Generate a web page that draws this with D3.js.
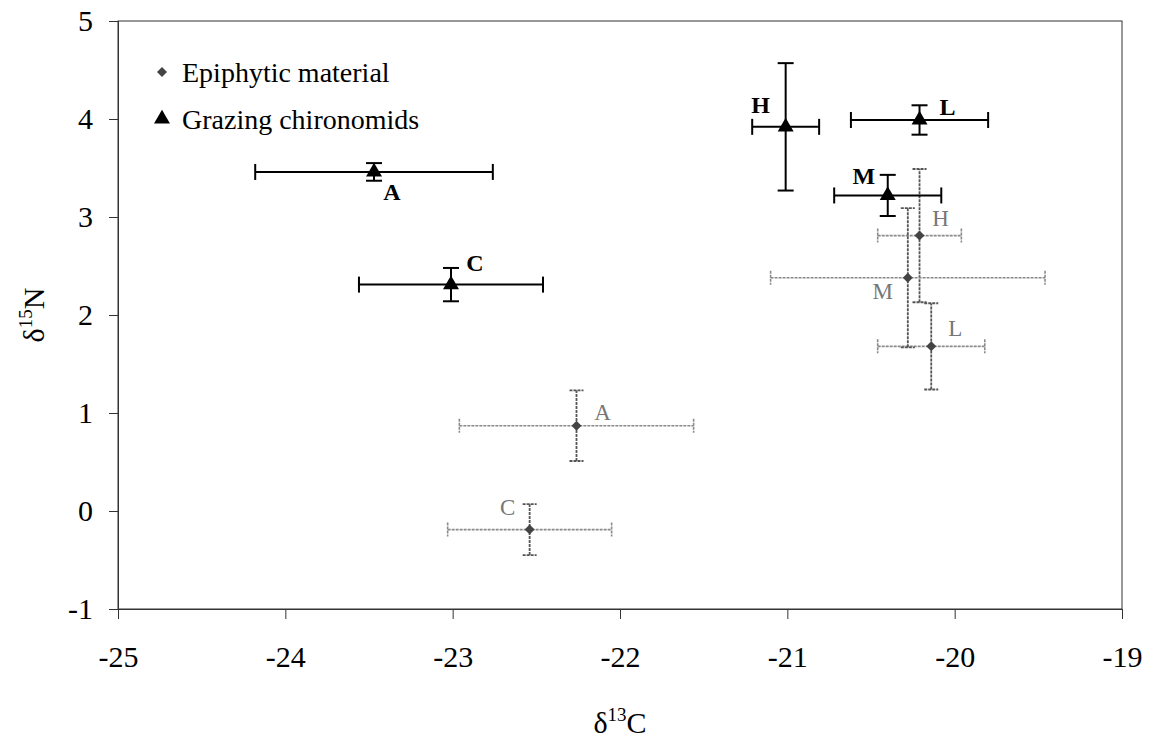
<!DOCTYPE html>
<html lang="en">
<head>
    <meta charset="UTF-8">
    <title>d15N vs d13C</title>
    <script src="https://d3js.org/d3.v7.min.js"></script>
    <style>
        body {
            margin: 0;
            padding: 0;
            background-color: #fff;
        }
    </style>
</head>
<body>
    <svg width="1153" height="738"></svg>
    <script>
        // Data
        const sites = ["A", "C", "H", "L", "M"];

        // Grazing chironomids
        const chiroC = [-23.47, -23.01, -21.01, -20.21, -20.40];
        const chiroCErr = [0.71, 0.55, 0.20, 0.41, 0.32];
        const chiroN = [3.46, 2.31, 3.92, 3.99, 3.22];
        const chiroNErr = [0.09, 0.17, 0.65, 0.15, 0.21];

        // Epiphytic material
        const epiC = [-22.26, -22.54, -20.21, -20.14, -20.28];
        const epiCErr = [0.70, 0.49, 0.25, 0.32, 0.82];
        const epiN = [0.87, -0.19, 2.81, 1.68, 2.38];
        const epiNErr = [0.36, 0.26, 0.68, 0.44, 0.71];

        const xTicks = [-25, -24, -23, -22, -21, -20, -19];
        const yTicks = [-1, 0, 1, 2, 3, 4, 5];

        const FONT = "'Times New Roman', 'Liberation Serif', Tinos, 'DejaVu Serif', serif";

        const svg = d3.select("svg")
            .attr("font-family", FONT),
            margin = { top: 21, right: 31, bottom: 129, left: 118 },
            width = 1153 - margin.left - margin.right,
            height = 738 - margin.top - margin.bottom;

        const g = svg.append("g")
            .attr("transform", `translate(${margin.left},${margin.top})`);

        const x = d3.scaleLinear().domain([-25, -19]).range([0, width]);
        const y = d3.scaleLinear().domain([-1, 5]).range([height, 0]);

        // Frame
        g.append("rect")
            .attr("width", width)
            .attr("height", height)
            .attr("fill", "none")
            .attr("stroke", "#333")
            .attr("stroke-width", 1);

        // Axes
        const xAxis = g.append("g")
            .attr("transform", `translate(0,${height})`)
            .call(d3.axisBottom(x).tickValues(xTicks).tickSize(10).tickPadding(27).tickFormat(d3.format("d")));
        const yAxis = g.append("g")
            .call(d3.axisLeft(y).tickValues(yTicks).tickSize(9).tickPadding(16).tickFormat(d3.format("d")));

        [xAxis, yAxis].forEach(a => {
            a.attr("font-family", FONT);
            a.select(".domain").attr("stroke", "#333");
            a.selectAll(".tick line").attr("stroke", "#333");
            a.selectAll("text")
                .attr("fill", "#000")
                .style("font-size", "30px")
                .text(d => (d < 0 ? "-" : "") + Math.abs(d));
        });

        // Axis titles
        const xt = svg.append("text")
            .attr("x", margin.left + width / 2).attr("y", 733)
            .attr("text-anchor", "middle")
            .style("font-size", "30px");
        xt.append("tspan").text("δ");
        xt.append("tspan").attr("dy", -12).style("font-size", "19px").text("13");
        xt.append("tspan").attr("dy", 12).text("C");

        const yt = svg.append("text")
            .attr("transform", `translate(44,${margin.top + height / 2}) rotate(-90)`)
            .attr("text-anchor", "middle")
            .style("font-size", "30px");
        yt.append("tspan").text("δ");
        yt.append("tspan").attr("dy", -12).style("font-size", "19px").text("15");
        yt.append("tspan").attr("dy", 12).text("N");

        const epi = sites.map((s, i) => ({ site: s, c: epiC[i], ce: epiCErr[i], n: epiN[i], ne: epiNErr[i] }));
        const chiro = sites.map((s, i) => ({ site: s, c: chiroC[i], ce: chiroCErr[i], n: chiroN[i], ne: chiroNErr[i] }));

        // Label offsets (pixels) around each point
        const epiLabelOff = { A: [26, -13], C: [-22, -22], H: [21, -17], L: [24, -18], M: [-25, 14] };
        const chiroLabelOff = { A: [18, 20], C: [24, -22], H: [-25, -22], L: [28, -13], M: [-24, -19] };

        function errorBars(sel, data, hStyle, vStyle, cap) {
            const grp = sel.selectAll(null).data(data).enter().append("g");
            // horizontal
            grp.append("line")
                .attr("x1", d => x(d.c - d.ce)).attr("x2", d => x(d.c + d.ce))
                .attr("y1", d => y(d.n)).attr("y2", d => y(d.n))
                .call(hStyle);
            grp.append("line")
                .attr("x1", d => x(d.c - d.ce)).attr("x2", d => x(d.c - d.ce))
                .attr("y1", d => y(d.n) - cap).attr("y2", d => y(d.n) + cap)
                .call(hStyle);
            grp.append("line")
                .attr("x1", d => x(d.c + d.ce)).attr("x2", d => x(d.c + d.ce))
                .attr("y1", d => y(d.n) - cap).attr("y2", d => y(d.n) + cap)
                .call(hStyle);
            // vertical
            grp.append("line")
                .attr("x1", d => x(d.c)).attr("x2", d => x(d.c))
                .attr("y1", d => y(d.n - d.ne)).attr("y2", d => y(d.n + d.ne))
                .call(vStyle);
            grp.append("line")
                .attr("x1", d => x(d.c) - cap).attr("x2", d => x(d.c) + cap)
                .attr("y1", d => y(d.n + d.ne)).attr("y2", d => y(d.n + d.ne))
                .call(vStyle);
            grp.append("line")
                .attr("x1", d => x(d.c) - cap).attr("x2", d => x(d.c) + cap)
                .attr("y1", d => y(d.n - d.ne)).attr("y2", d => y(d.n - d.ne))
                .call(vStyle);
        }

        // Epiphytic material: grey dotted bars
        errorBars(g, epi,
            s => s.attr("stroke", "#8a8a8a").attr("stroke-width", 1.6).attr("stroke-dasharray", "3,1"),
            s => s.attr("stroke", "#555").attr("stroke-width", 1.8).attr("stroke-dasharray", "3,1"),
            7);

        // Chironomids: solid black bars
        errorBars(g, chiro,
            s => s.attr("stroke", "#000").attr("stroke-width", 2),
            s => s.attr("stroke", "#000").attr("stroke-width", 2),
            8);

        const diamond = d3.symbol().type(d3.symbolSquare).size(50);
        const triangle = d3.symbol().type(d3.symbolTriangle).size(110);

        g.selectAll(".epi")
            .data(epi).enter().append("path")
            .attr("class", "epi")
            .attr("d", diamond)
            .attr("transform", d => `translate(${x(d.c)},${y(d.n)}) rotate(45)`)
            .attr("fill", "#444");

        g.selectAll(".chiro")
            .data(chiro).enter().append("path")
            .attr("class", "chiro")
            .attr("d", triangle)
            .attr("transform", d => `translate(${x(d.c)},${y(d.n)})`)
            .attr("fill", "#000");

        // Point labels
        g.selectAll(".epiLab")
            .data(epi).enter().append("text")
            .attr("x", d => x(d.c) + epiLabelOff[d.site][0])
            .attr("y", d => y(d.n) + epiLabelOff[d.site][1])
            .attr("text-anchor", "middle")
            .attr("dominant-baseline", "central")
            .attr("fill", "#777")
            .style("font-size", "23px")
            .text(d => d.site);

        g.selectAll(".chiroLab")
            .data(chiro).enter().append("text")
            .attr("x", d => x(d.c) + chiroLabelOff[d.site][0])
            .attr("y", d => y(d.n) + chiroLabelOff[d.site][1])
            .attr("text-anchor", "middle")
            .attr("dominant-baseline", "central")
            .attr("fill", "#000")
            .style("font-size", "24px")
            .style("font-weight", "bold")
            .text(d => d.site);

        // Legend
        const legend = svg.append("g");
        legend.append("path")
            .attr("d", diamond)
            .attr("transform", "translate(162,72) rotate(45)")
            .attr("fill", "#444");
        legend.append("text")
            .attr("x", 182).attr("y", 82)
            .style("font-size", "28px")
            .text("Epiphytic material");
        legend.append("path")
            .attr("d", triangle)
            .attr("transform", "translate(162,119)")
            .attr("fill", "#000");
        legend.append("text")
            .attr("x", 182).attr("y", 129)
            .style("font-size", "28px")
            .text("Grazing chironomids");
    </script>
</body>
</html>
